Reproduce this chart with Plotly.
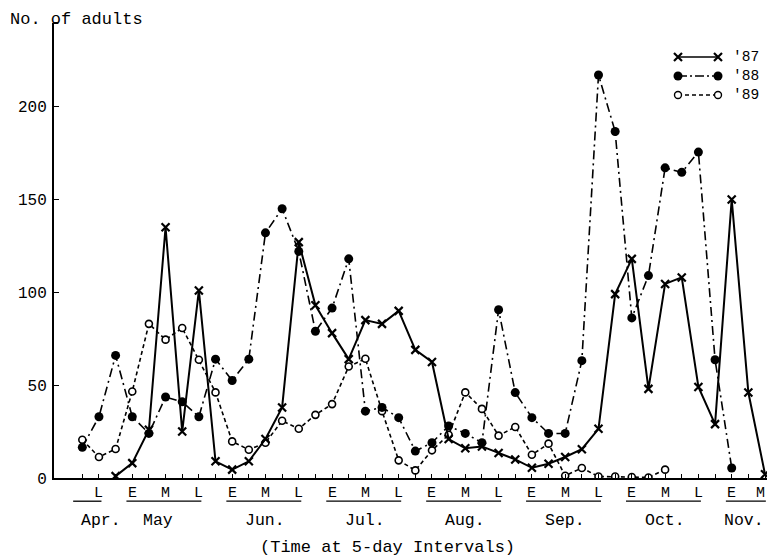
import plotly.graph_objects as go

# ---- data (5-day intervals, index 0 = late April) ----
n_intervals = 42
y87 = [None, None, 1, 8, 26, 135, 25, 101, 9, 4.5, 9, 21, 38, 127, 93, 78, 64, 85, 83, 90,
       69, 62.5, 21, 16, 17, 13.5, 10, 5.5, 7.7, 11.3, 15.5, 26.5, 99, 118, 48, 104.5, 108, 49, 29, 150,
       46, 2]
y88 = [16.5, 33, 66, 33, 24, 43.6, 41, 33, 64, 52.5, 64, 132, 145, 122, 79, 91.5, 118, 36, 38, 32.5,
       14.5, 19, 28, 24, 19, 90.6, 46, 32.5, 24, 24, 63.2, 217, 186.6, 86.2, 109, 167, 164.6, 175.5, 63.7, 5.4,
       None, None]
y89 = [20.6, 11.3, 15.6, 46.6, 83, 74.5, 80.8, 63.7, 46.1, 19.7, 15.2, 19, 30.8, 26.5, 34, 39.8, 60, 64.2, 36, 9.5,
       4.1, 14.9, 23.3, 46.1, 37.2, 22.8, 27.5, 12.5, 18.5, 1.2, 5.4, 0.8, 0.8, 0.5, 0.3, 4.5,
       None, None, None, None, None, None]

period_labels = ["L", "E", "M", "L", "E", "M", "L", "E", "M", "L", "E", "M", "L",
                 "E", "M", "L", "E", "M", "L", "E", "M"]
months = ["Apr.", "May", "Jun.", "Jul.", "Aug.", "Sep.", "Oct.", "Nov."]
month_groups = [1, 3, 3, 3, 3, 3, 3, 2]  # number of period labels per month
series_names = ["'87", "'88", "'89"]
y_ticks = [0, 50, 100, 150, 200]

x = list(range(n_intervals))
FONT = "Liberation Mono, DejaVu Sans Mono, monospace"

fig = go.Figure()
fig.add_trace(go.Scatter(x=x, y=y89, mode="lines+markers", name=series_names[2],
                         line=dict(color="black", width=1.6, dash="4px,3px"),
                         marker=dict(symbol="circle", size=7, color="white",
                                     line=dict(color="black", width=1.6)),
                         connectgaps=False))
fig.add_trace(go.Scatter(x=x, y=y88, mode="lines+markers", name=series_names[1],
                         line=dict(color="black", width=1.6, dash="9px,4px,2px,4px"),
                         marker=dict(symbol="circle", size=9, color="black"),
                         connectgaps=False))
fig.add_trace(go.Scatter(x=x, y=y87, mode="lines+markers", name=series_names[0],
                         line=dict(color="black", width=2),
                         marker=dict(symbol="x-thin-open", size=8,
                                     line=dict(color="black", width=2.2)),
                         connectgaps=False))

ann = []
shapes = []

# ---- custom legend (overlay axis in reference pixel units) ----
leg_rows = [(57, dict(symbol="x-thin-open", size=8, line=dict(color="black", width=2.2)),
             dict(color="black", width=1.6)),
            (76, dict(symbol="circle", size=9, color="black"),
             dict(color="black", width=1.6, dash="9px,3px,2px,3px")),
            (95, dict(symbol="circle", size=7, color="white", line=dict(color="black", width=1.4)),
             dict(color="black", width=1.4, dash="4px,3px"))]
for (ly, mk, ln), nm in zip(leg_rows, series_names):
    fig.add_trace(go.Scatter(x=[678, 718], y=[ly, ly], mode="lines+markers", marker=mk, line=ln,
                             xaxis="x2", yaxis="y2", showlegend=False, hoverinfo="skip"))
    ann.append(dict(x=731, y=ly, xref="x2", yref="y2", text=nm, showarrow=False,
                    xanchor="left", yanchor="middle", font=dict(family=FONT, size=14.5, color="black")))

# ---- period labels (E/M/L) and month labels ----
for i, lab in enumerate(period_labels):
    xi = 1 + 2 * i
    ann.append(dict(x=min(xi, 40.75), y=0, xref="x", yref="paper", yshift=-15, text=lab, showarrow=False,
                    yanchor="middle", font=dict(family=FONT, size=15, color="black")))
k = 0
month_offsets = [0.15, -0.45, 0, 0, 0, 0, 0, -0.25]
for m, g, off in zip(months, month_groups, month_offsets):
    first = 1 + 2 * k
    last = 1 + 2 * (k + g - 1)
    center = (first + last) / 2 + off
    ann.append(dict(x=center, y=0, xref="x", yref="paper", yshift=-42, text=m, showarrow=False,
                    yanchor="middle", font=dict(family=FONT, size=16.5, color="black")))
    start = first - (1.55 if g == 1 else 0.35)
    shapes.append(dict(type="line", xref="x", yref="paper", x0=start, x1=min(last + 0.15, 41.05),
                       y0=-0.051, y1=-0.051, line=dict(color="black", width=1.3)))
    k += g

ann.append(dict(x=0.462, y=0, xref="paper", yref="paper", yshift=-69, text="(Time at 5-day Intervals)",
                showarrow=False, yanchor="middle", font=dict(family=FONT, size=17, color="black")))
ann.append(dict(x=-0.064, y=1, xref="paper", yref="paper", yshift=4, text="No. of adults",
                showarrow=False, xanchor="left", yanchor="middle", font=dict(family=FONT, size=17, color="black")))
# small hook at top of y axis
shapes.append(dict(type="line", xref="paper", yref="paper", x0=0, x1=0.006, y0=1, y1=1,
                   line=dict(color="black", width=2)))

# page body has an 8px margin: size figure so the plot lands where the reference has it
fig.update_layout(
    width=767, height=548,
    margin=dict(l=46, r=0, t=15, b=78),
    paper_bgcolor="white", plot_bgcolor="white",
    showlegend=False,
    font=dict(family=FONT, size=16, color="black"),
    annotations=ann, shapes=shapes,
    xaxis=dict(range=[-1.7, 41.6], tickvals=x, ticktext=[""] * len(x), ticks="inside", ticklen=4,
               tickwidth=1.3, tickcolor="black", showgrid=False, zeroline=False,
               showline=True, linecolor="black", linewidth=2),
    yaxis=dict(range=[0, 245], tickvals=y_ticks, ticks="inside", ticklen=5, tickwidth=1.3,
               tickcolor="black", showgrid=False, zeroline=False, showline=True,
               linecolor="black", linewidth=2, ticklabelstandoff=2,
               tickfont=dict(family=FONT, size=16, color="black")),
    xaxis2=dict(range=[54, 775], overlaying="x", visible=False, anchor="y2"),
    yaxis2=dict(range=[478.3, 23], overlaying="y", visible=False, anchor="x2"),
)

fig.write_html("out.html",
               post_script="document.documentElement.style.overflow='hidden';"
                           "document.body.style.overflow='hidden';")
